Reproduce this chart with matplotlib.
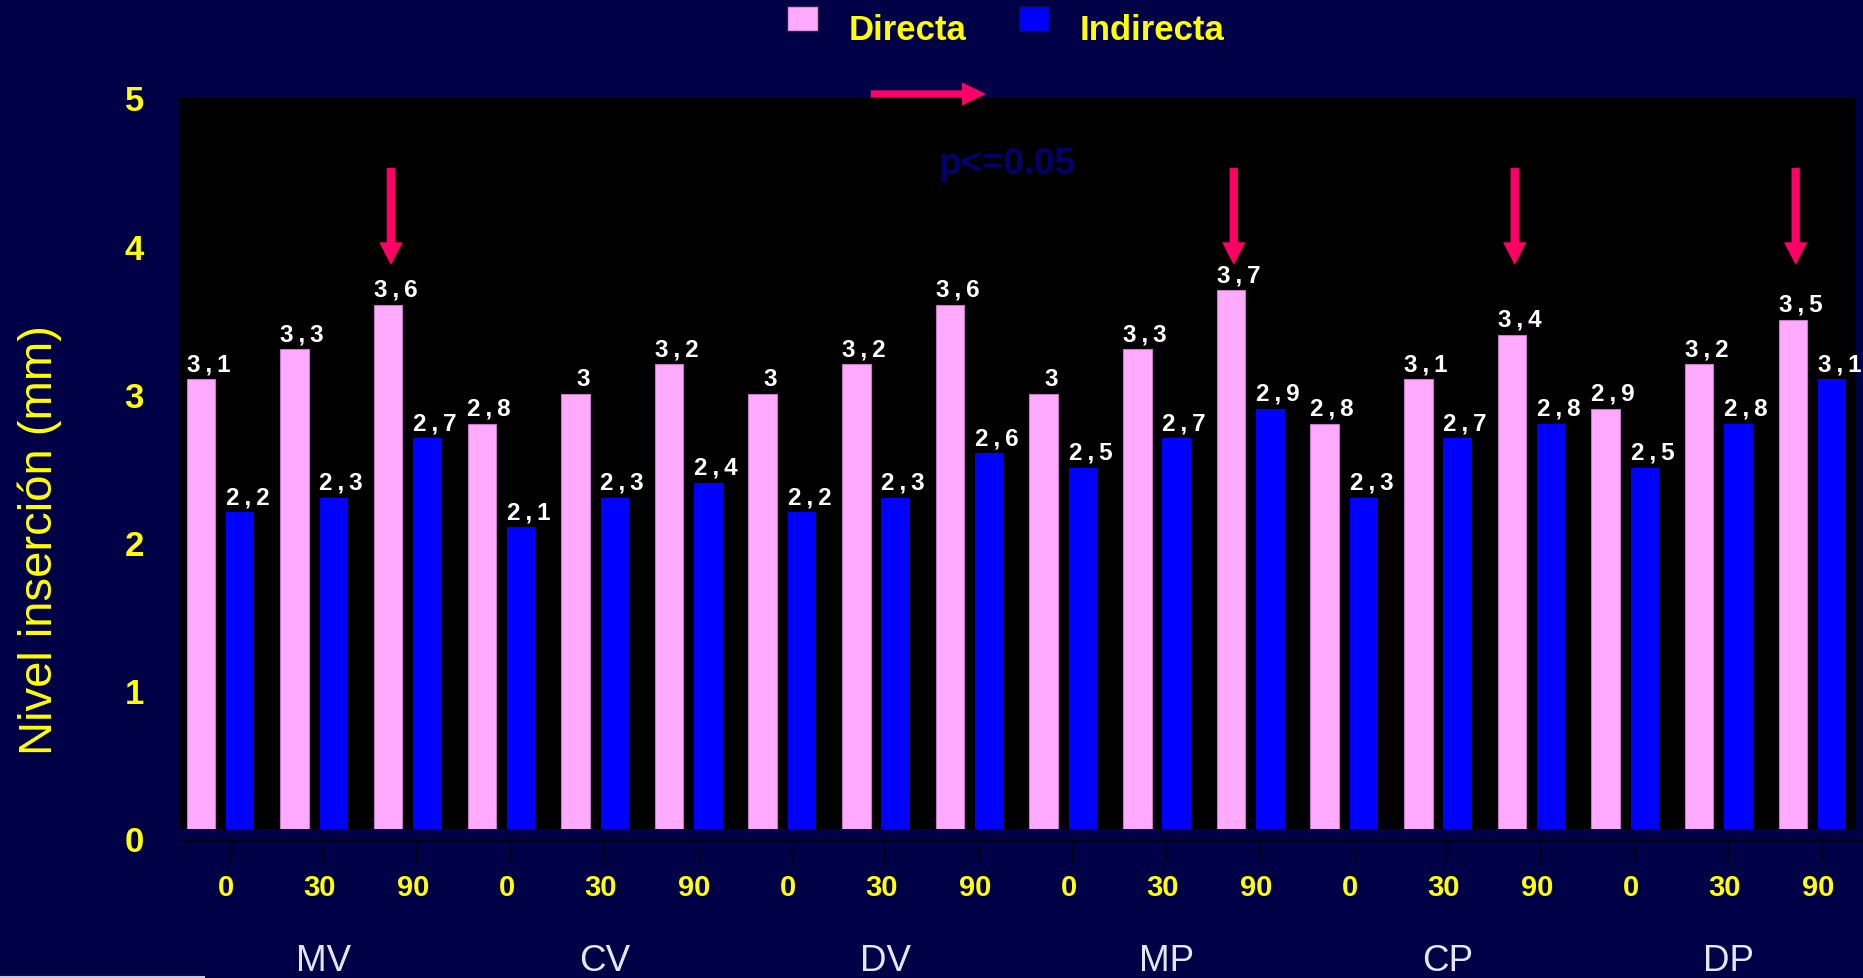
import numpy as np
import matplotlib.pyplot as plt
import matplotlib.transforms as mtrans
from matplotlib.patches import FancyArrow, Rectangle
from matplotlib.lines import Line2D

directa = [3.1, 3.3, 3.6, 2.8, 3.0, 3.2, 3.0, 3.2, 3.6,
           3.0, 3.3, 3.7, 2.8, 3.1, 3.4, 2.9, 3.2, 3.5]
indirecta = [2.2, 2.3, 2.7, 2.1, 2.3, 2.4, 2.2, 2.3, 2.6,
             2.5, 2.7, 2.9, 2.3, 2.7, 2.8, 2.5, 2.8, 3.1]
angulos = ['0', '30', '90'] * 6
grupos = ['MV', 'CV', 'DV', 'MP', 'CP', 'DP']
flechas = [2, 11, 14, 17]  # grupos marcados con p<=0.05

navy = '#000046'
pink = '#FFAAFF'
blue = '#0000FF'
red = '#FF0066'
yellow = '#FFFF00'
fam = ['Liberation Sans', 'DejaVu Sans']

plt.rcParams['font.family'] = fam

W, H = 1863, 979
fig = plt.figure(figsize=(W / 100, H / 100), dpi=100, facecolor=navy)
# axes in pixel positions of the original
left, right, top, bottom = 178.6, 1856, 98.5, 839.5
ax = fig.add_axes([left / W, 1 - bottom / H, (right - left) / W, (bottom - top) / H])
ax.set_facecolor('black')

x = np.arange(len(directa))
off, w = 0.21, 0.304
ax.bar(x - off, directa, w, color=pink, edgecolor='#C07CC0', linewidth=0.8, zorder=2)
ax.bar(x + off, indirecta, w, color=blue, linewidth=0, zorder=2)
# navy floor strip under the bars
ax.axhspan(0, 0.064, color=navy, zorder=3, linewidth=0)

def fmt(v):
    s = ('%.1f' % v).rstrip('0').rstrip('.')
    return s.replace('.', '\u2009,\u2009')

for xi, v in zip(x - off, directa):
    ax.text(xi + 0.08, v + 0.061, fmt(v), color='white', fontsize=17.5,
            fontweight='bold', ha='center', va='baseline', zorder=4)
for xi, v in zip(x + off, indirecta):
    ax.text(xi + 0.08, v + 0.061, fmt(v), color='white', fontsize=17.5,
            fontweight='bold', ha='center', va='baseline', zorder=4)

for g in flechas:
    xa = g - off + 0.03
    ax.add_patch(FancyArrow(xa, 4.524, 0, -(4.524 - 3.870), width=0.089,
                            head_width=0.249, head_length=0.153,
                            length_includes_head=True, color=red,
                            linewidth=0, zorder=5))

ax.set_xlim(-0.447, 17.464)
ax.set_ylim(0, 5)
for s in ax.spines.values():
    s.set_visible(False)

ax.set_yticks([0, 1, 2, 3, 4, 5])
ax.tick_params(axis='y', length=0, pad=25, labelsize=25, labelcolor=yellow)
for t in ax.get_yticklabels():
    t.set_fontweight('bold')

ax.set_xticks(x + 0.10)
ax.set_xticklabels(angulos, fontsize=21, fontweight='bold', color=yellow)
ax.tick_params(axis='x', direction='out', length=16, width=1.1, color='black', pad=9)
shift = mtrans.ScaledTranslation(-4 / 100, 0, fig.dpi_scale_trans)
for t in ax.get_xticklabels():
    t.set_transform(t.get_transform() + shift)

for i, g in enumerate(grupos):
    ax.text(3 * i + 1 + 0.10, -0.178, g, transform=ax.get_xaxis_transform(),
            color='#E6E6F0', fontsize=26.5, ha='center', va='baseline')

fig.text(40 / W, 1 - 540 / H, 'Nivel inserción (mm)', rotation=90, color=yellow,
         fontsize=34, ha='center', va='center')

# x axis line, slightly below the plot floor
fig.add_artist(Line2D([183 / W, 1.0], [1 - 842 / H] * 2, color='black', linewidth=1.2,
                      transform=fig.transFigure, zorder=6))
# thin light line at bottom-left
fig.add_artist(Line2D([0, 204 / W], [1 - 977.5 / H] * 2, color='#C8C8E6', linewidth=1.5,
                      transform=fig.transFigure, zorder=6))

# legend
fig.add_artist(Rectangle((787 / 100, (H - 32) / 100), 0.31, 0.25, facecolor=pink,
                         edgecolor='#302040', linewidth=1, transform=fig.dpi_scale_trans))
fig.add_artist(Rectangle((1019 / 100, (H - 32) / 100), 0.30, 0.25, facecolor=blue,
                         edgecolor='#101030', linewidth=1, transform=fig.dpi_scale_trans))
fig.text(849 / W, 1 - 40 / H, 'Directa', color=yellow, fontsize=25, fontweight='bold',
         ha='left', va='baseline')
fig.text(1080 / W, 1 - 40 / H, 'Indirecta', color=yellow, fontsize=25, fontweight='bold',
         ha='left', va='baseline')

# horizontal arrow and p value
fig.add_artist(FancyArrow(870.7 / 100, (H - 95) / 100, (986 - 870.7) / 100, 0,
                          width=0.073, head_width=0.23, head_length=0.24,
                          length_includes_head=True, color=red, linewidth=0,
                          transform=fig.dpi_scale_trans, zorder=7))
fig.text(1006.7 / W, 1 - 165 / H, 'p<=0.05', color='#00006E', fontsize=26.5,
         fontweight='bold', ha='center', va='center')

fig.savefig('out.png', dpi=100, facecolor=navy)
